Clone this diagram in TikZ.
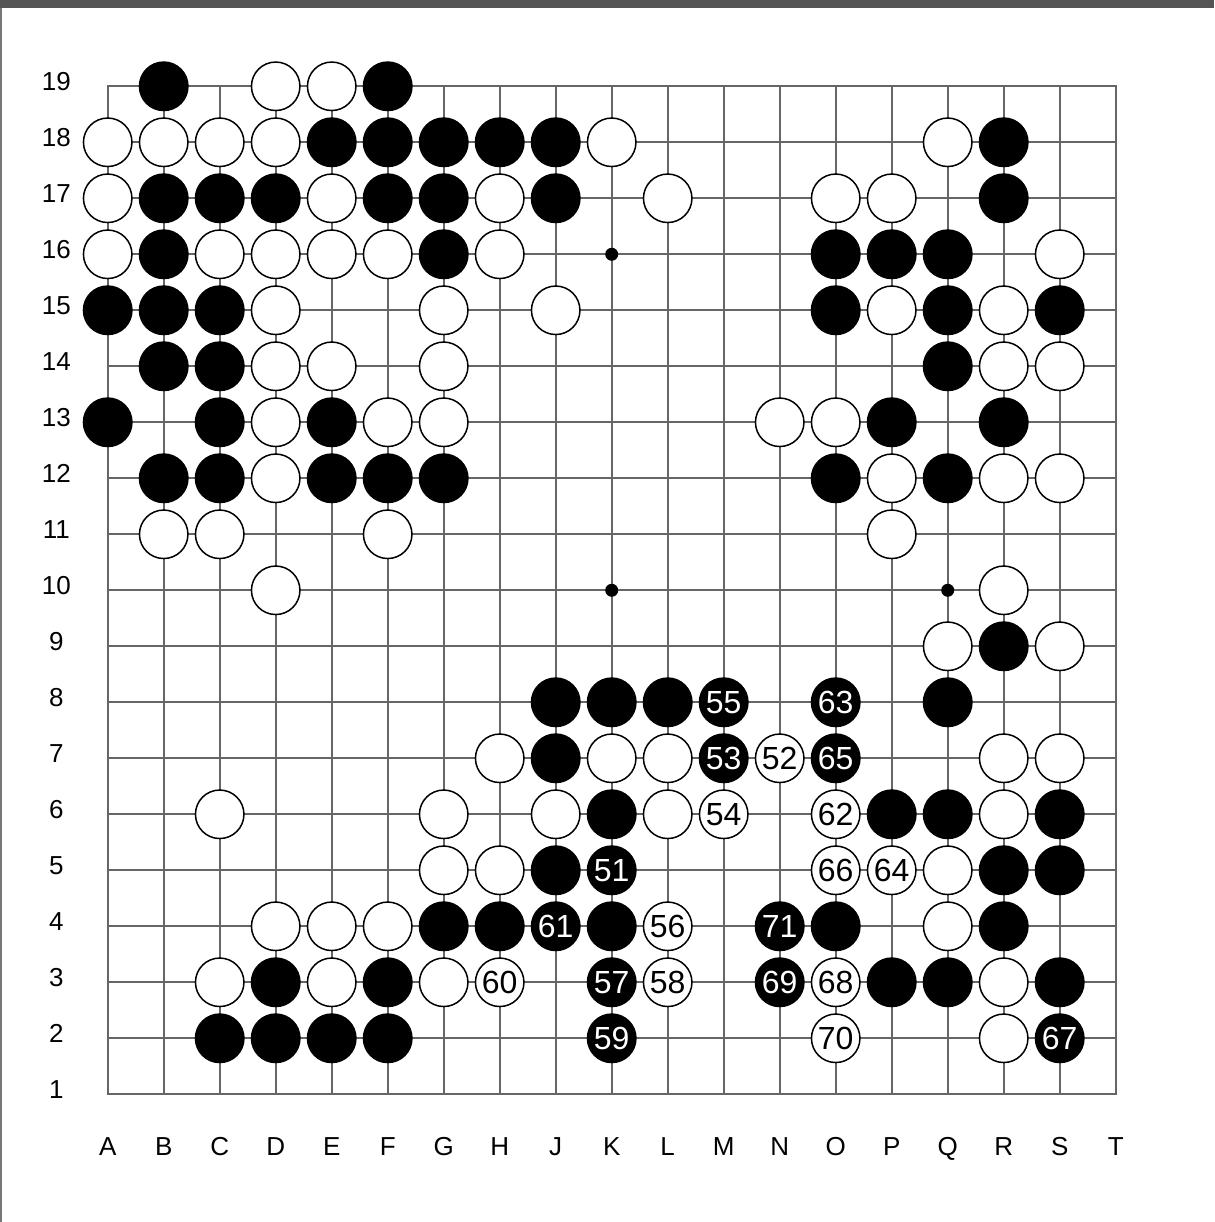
\documentclass[tikz,border=0pt]{standalone}
\usepackage{fontspec}
\setmainfont{Liberation Sans}
\definecolor{Frame}{HTML}{555555}
\definecolor{Grid}{HTML}{666666}
\definecolor{Edge}{HTML}{777777}
\tikzset{
  gridline/.style={draw=Grid,line width=1.7pt},
  boardedge/.style={draw=Grid,line width=2pt},
  hoshidot/.style={circle,fill=black,inner sep=0pt,minimum size=13pt},
  blackstone/.style={circle,fill=black,draw=black,line width=1.5pt,inner sep=0pt,minimum size=48.5pt,font=\fontsize{32}{38}\selectfont,text=white},
  whitestone/.style={circle,fill=white,draw=black,line width=1.5pt,inner sep=0pt,minimum size=48.5pt,font=\fontsize{32}{38}\selectfont,text=black},
  coordlabel/.style={font=\fontsize{26}{31}\selectfont,text=black,anchor=base,inner sep=0pt}
}

\begin{document}
\begin{tikzpicture}[x=56pt,y=56pt]
  \useasboundingbox (-107.7pt,-127.7pt) rectangle (1106.3pt,1094.3pt);
  \fill[Frame] (-107.7pt,1086.3pt) rectangle (1106.3pt,1094.3pt);
  \fill[Edge] (-107.7pt,-127.7pt) rectangle (-105.7pt,1086.3pt);
  \foreach \c [count=\i from 0] in {A,B,C,D,E,F,G,H,J,K,L,M,N,O,P,Q,R,S,T} {
    \foreach \r in {1,...,19}
      \coordinate (\c\r) at (\i,\r-1);
    \node[coordlabel] (col\c) at (\i,-1.084) {\c};
  }
  \foreach \r in {1,...,19}
    \node[coordlabel] (row\r) at (-0.918,\r-1.077) {\r};
  \foreach \c in {B,C,D,E,F,G,H,J,K,L,M,N,O,P,Q,R,S}
    \draw[gridline] (\c1) -- (\c19);
  \foreach \r in {2,...,18}
    \draw[gridline] (A\r) -- (T\r);
  \draw[boardedge] (A1) rectangle (T19);
  \foreach \p in {K16,K10,Q10}
    \node[hoshidot] (hoshi\p) at (\p) {};
  \foreach \p in {B19,F19,E18,F18,G18,H18,J18,R18,B17,C17,D17,F17,G17,J17,R17,
    B16,G16,O16,P16,Q16,A15,B15,C15,O15,Q15,S15,B14,C14,Q14,A13,C13,E13,P13,R13,
    B12,C12,E12,F12,G12,O12,Q12,R9,J8,K8,L8,Q8,J7,K6,P6,Q6,S6,J5,R5,S5,
    G4,H4,K4,O4,R4,D3,F3,P3,Q3,S3,C2,D2,E2,F2}
    \node[blackstone] (stone\p) at (\p) {};
  \foreach \p in {D19,E19,A18,B18,C18,D18,K18,Q18,A17,E17,H17,L17,O17,P17,
    A16,C16,D16,E16,F16,H16,S16,D15,G15,J15,P15,R15,D14,E14,G14,R14,S14,
    D13,F13,G13,N13,O13,D12,P12,R12,S12,B11,C11,F11,P11,D10,R10,Q9,S9,
    H7,K7,L7,R7,S7,C6,G6,J6,L6,R6,G5,H5,Q5,D4,E4,F4,Q4,C3,E3,G3,R3,R2}
    \node[whitestone] (stone\p) at (\p) {};
  \foreach \p/\n in {K5/51,M7/53,M8/55,K3/57,K2/59,J4/61,O8/63,O7/65,S2/67,N3/69,N4/71}
    \node[blackstone] (stone\p) at (\p) {\n};
  \foreach \p/\n in {N7/52,M6/54,L4/56,L3/58,H3/60,O6/62,P5/64,O5/66,O3/68,O2/70}
    \node[whitestone] (stone\p) at (\p) {\n};
\end{tikzpicture}
\end{document}
